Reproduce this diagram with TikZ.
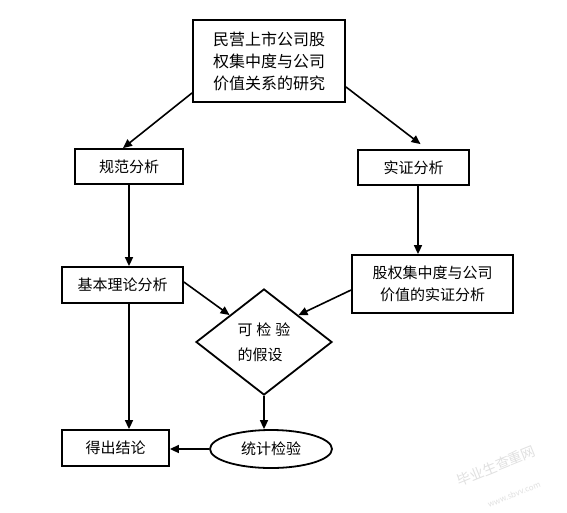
\documentclass[tikz,border=0pt]{standalone}
\usepackage{fontspec}
\setmainfont{Noto Sans CJK SC}
\usetikzlibrary{shapes.geometric,arrows.meta,calc}
\tikzset{
  box/.style={draw,line width=1.8pt,rectangle,inner sep=0pt,align=center,font=\fontsize{15}{22}\selectfont},
  arr/.style={line width=1.6pt,-{Triangle[length=9pt,width=8pt]}},
  wm/.style={text=black!12,inner sep=0pt,font=\fontsize{14}{16}\selectfont}
}
\begin{document}
\begin{tikzpicture}[x=1pt,y=-1pt]
\useasboundingbox (0,0) rectangle (567,512);
\node[box,minimum width=152pt,minimum height=82pt,font=\fontsize{16}{22}\selectfont] (top) at (269,61) {民营上市公司股\\权集中度与公司\\价值关系的研究};
\node[box,minimum width=108pt,minimum height=35pt] (gf) at (129,166.5) {规范分析};
\node[box,minimum width=111pt,minimum height=35pt] (sz) at (413.5,167.5) {实证分析};
\node[box,minimum width=121pt,minimum height=36pt] (jb) at (122.5,285) {基本理论分析};
\node[box,minimum width=161pt,minimum height=58pt] (gq) at (432.5,284) {股权集中度与公司\\价值的实证分析};
\node[box,diamond,minimum width=136pt,minimum height=106pt,align=left,font=\fontsize{15}{25}\selectfont] (dm) at (264,342) {可\hspace{4pt}检\hspace{4pt}验\\的假设};
\node[box,ellipse,minimum width=122pt,minimum height=38pt] (tj) at (271,449) {统计检验};
\node[box,minimum width=107pt,minimum height=36pt] (dc) at (115.5,448) {得出结论};
% connectors
\draw[arr] ([yshift=10pt]top.south west) -- ([xshift=-6pt]gf.north);
\draw[arr] ([yshift=16pt]top.south east) -- ([xshift=7pt,yshift=5pt]sz.north);
\draw[arr] (gf.south) -- (gf.south |- jb.north);
\draw[arr] ([xshift=4.5pt]sz.south) -- ([xshift=4.5pt]sz.south |- gq.north);
\draw[arr] ([yshift=3pt]jb.east) -- (dm.north west);
\draw[arr] ([yshift=-6pt]gq.west) -- (dm.north east);
\draw[arr] (dm.south) -- (dm.south |- tj.north);
\draw[arr] (tj.west) -- (tj.west -| dc.east);
\draw[arr] (gf.south |- jb.south) -- (gf.south |- dc.north);
% watermark
\node[wm,rotate=22] (wm1) at (496,466) {毕业生查重网};
\node[wm,rotate=22,font=\fontsize{8}{9}\selectfont] (wm2) at (514,494) {www.sbvv.com};
\end{tikzpicture}
\end{document}
